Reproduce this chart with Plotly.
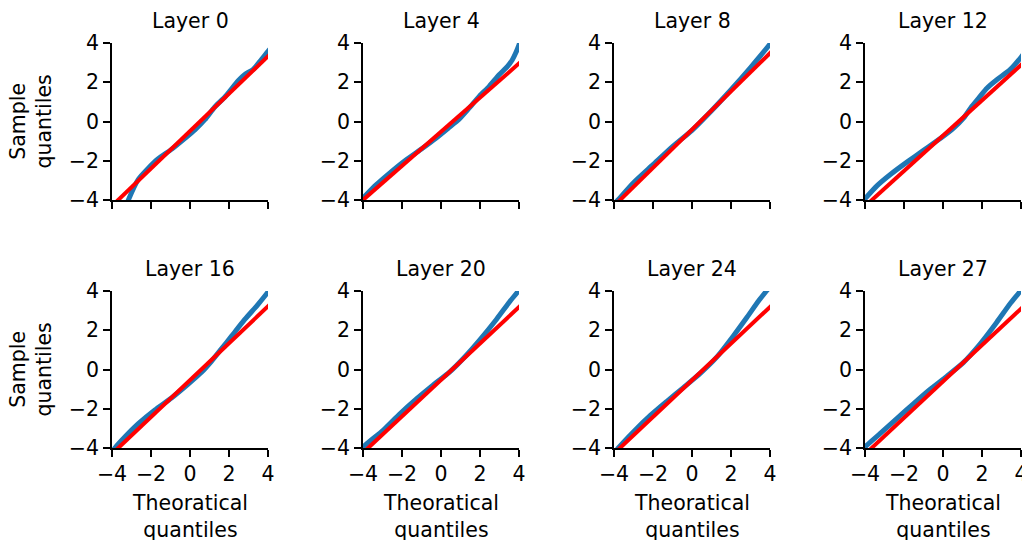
import plotly.graph_objects as go

layers = [0, 4, 8, 12, 16, 20, 24, 27]

# Theoretical quantiles (x) and sample quantiles (y)
qx_L0 = [-3.45, -3.16, -2.65, -2.14, -1.63, -0.95, -0.26, 0.25, 0.76, 1.27, 1.79, 2.47, 2.81, 3.24, 3.66, 4.0, 4.2]
qy_L0 = [-4.8, -4.0, -2.95, -2.38, -1.90, -1.42, -0.86, -0.43, 0.09, 0.74, 1.25, 2.08, 2.40, 2.66, 3.15, 3.57, 3.8]

qx_L4 = [-4.1, -3.33, -2.65, -1.80, -0.95, -0.26, 0.42, 0.93, 1.44, 1.96, 2.47, 2.98, 3.41, 3.66, 3.83, 4.0, 4.1]
qy_L4 = [-4.0, -3.23, -2.64, -1.96, -1.36, -0.85, -0.30, 0.12, 0.68, 1.28, 1.79, 2.38, 2.81, 3.15, 3.49, 3.91, 4.2]

qx_L8 = [-3.95, -3.8, -3.0, -2.0, -1.0, 0.0, 1.0, 2.0, 3.0, 4.0, 4.1]
qy_L8 = [-4.15, -4.0, -3.12, -2.2, -1.28, -0.45, 0.55, 1.62, 2.75, 3.95, 4.1]

qx_L12 = [-4.1, -3.39, -2.70, -1.85, -1.0, -0.14, 0.54, 1.05, 1.48, 1.90, 2.25, 2.76, 3.44, 4.0, 4.1]
qy_L12 = [-4.05, -3.28, -2.70, -2.07, -1.47, -0.87, -0.34, 0.17, 0.77, 1.28, 1.70, 2.13, 2.64, 3.27, 3.4]

qx_L16 = [-3.95, -3.85, -3.33, -2.65, -1.80, -0.95, -0.09, 0.59, 1.10, 1.61, 2.13, 2.81, 3.49, 4.0, 4.1]
qy_L16 = [-4.15, -4.0, -3.43, -2.76, -2.06, -1.45, -0.74, -0.14, 0.42, 1.05, 1.70, 2.55, 3.32, 3.95, 4.1]

qx_L20 = [-4.1, -4.0, -2.97, -2.12, -1.26, -0.41, 0.45, 1.13, 1.98, 2.84, 3.52, 4.0, 4.1]
qy_L20 = [-4.1, -3.95, -3.10, -2.27, -1.50, -0.80, -0.12, 0.55, 1.50, 2.55, 3.45, 4.04, 4.2]

qx_L24 = [-3.9, -3.78, -3.01, -2.15, -1.29, -0.44, 0.42, 1.28, 2.13, 2.82, 3.42, 3.85, 4.1]
qy_L24 = [-4.15, -4.0, -3.18, -2.35, -1.62, -0.92, -0.20, 0.64, 1.72, 2.66, 3.50, 4.04, 4.35]

qx_L27 = [-4.1, -4.0, -3.23, -2.37, -1.52, -0.67, 0.19, 1.04, 1.90, 2.75, 3.44, 4.0, 4.1]
qy_L27 = [-4.1, -3.95, -3.27, -2.50, -1.75, -1.02, -0.35, 0.35, 1.30, 2.40, 3.35, 4.04, 4.2]

sample_x = [qx_L0, qx_L4, qx_L8, qx_L12, qx_L16, qx_L20, qx_L24, qx_L27]
sample_y = [qy_L0, qy_L4, qy_L8, qy_L12, qy_L16, qy_L20, qy_L24, qy_L27]

# Reference (fit) line per layer
red_slope = [0.953, 0.87, 0.974, 0.90, 0.94, 0.928, 0.934, 0.927]
red_intercept = [-0.49, -0.52, -0.41, -0.72, -0.54, -0.53, -0.55, -0.61]
line_x = [-4.5, 4.5]

tick_vals = [-4, -2, 0, 2, 4]
tick_text = ["\u22124", "\u22122", "0", "2", "4"]

OFF = 8  # page body margin
W, H = 1030 - OFF, 540 - OFF
col_px = [(112, 268), (363, 519), (614, 770), (865, 1021)]
row_px = [(43, 200), (291, 448)]
FONT = "DejaVu Sans"
FS = 20.5


def fx(p):
    return (p - OFF) / W


def fy(p):
    return 1 - (p - OFF) / H


fig = go.Figure()
layout = dict(
    width=W, height=H, margin=dict(l=0, r=0, t=0, b=0, autoexpand=False),
    plot_bgcolor="white", paper_bgcolor="white", showlegend=False,
    font=dict(family=FONT, size=FS, color="black"),
)
annotations = []

for i, layer in enumerate(layers):
    r, c = divmod(i, 4)
    ax = "" if i == 0 else str(i + 1)
    xa, ya = "x" + ax, "y" + ax
    fig.add_trace(go.Scatter(
        x=sample_x[i], y=sample_y[i], mode="lines",
        line=dict(color="#1f77b4", width=5, shape="spline", smoothing=0.6),
        xaxis=xa, yaxis=ya, hoverinfo="skip"))
    fig.add_trace(go.Scatter(
        x=line_x, y=[red_slope[i] * v + red_intercept[i] for v in line_x], mode="lines",
        line=dict(color="#ff0000", width=4),
        xaxis=xa, yaxis=ya, hoverinfo="skip"))
    x0, x1 = col_px[c]
    y0, y1 = row_px[r]
    common = dict(showgrid=False, zeroline=False, showline=True, linecolor="black",
                  linewidth=1.6, ticks="outside", ticklen=7, tickwidth=1.6,
                  tickcolor="black", range=[-4, 4], tickvals=tick_vals,
                  ticktext=tick_text, tickfont=dict(family=FONT, size=FS, color="black"),
                  fixedrange=True, automargin=False)
    layout["xaxis" + ax] = dict(common, domain=[fx(x0), fx(x1)], anchor=ya,
                                showticklabels=(r == 1))
    layout["yaxis" + ax] = dict(common, domain=[fy(y1), fy(y0)], anchor=xa)
    annotations.append(dict(
        text=f"Layer {layer}", x=fx((x0 + x1) / 2), y=fy(y0 - 22),
        xref="paper", yref="paper", xanchor="center", yanchor="middle",
        showarrow=False, font=dict(family=FONT, size=FS, color="black")))
    if r == 1:
        annotations.append(dict(
            text="Theoratical<br>quantiles", x=fx((x0 + x1) / 2), y=fy(516),
            xref="paper", yref="paper", xanchor="center", yanchor="middle",
            showarrow=False, font=dict(family=FONT, size=FS, color="black")))
    if c == 0:
        annotations.append(dict(
            text="Sample<br>quantiles", x=fx(31), y=fy((y0 + y1) / 2),
            xref="paper", yref="paper", xanchor="center", yanchor="middle",
            textangle=-90, showarrow=False,
            font=dict(family=FONT, size=FS, color="black")))

layout["annotations"] = annotations
fig.update_layout(**layout)
fig.write_html("out.html")
